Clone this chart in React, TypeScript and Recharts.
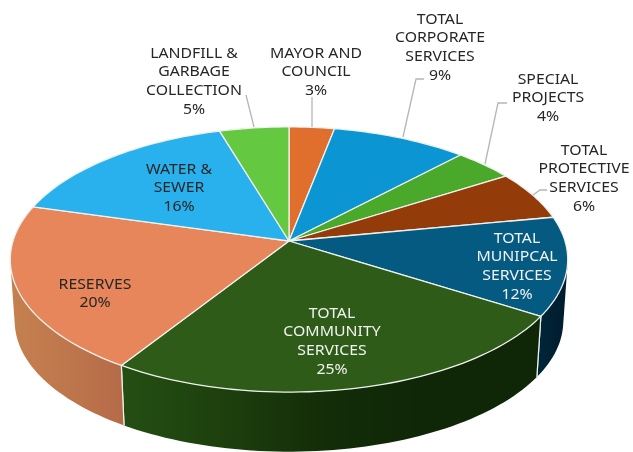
import React from 'react';
import { PieChart, Pie } from 'recharts';

// ---- data ----
const categories = [
  'MAYOR AND COUNCIL',
  'TOTAL CORPORATE SERVICES',
  'SPECIAL PROJECTS',
  'TOTAL PROTECTIVE SERVICES',
  'TOTAL MUNIPCAL SERVICES',
  'TOTAL COMMUNITY SERVICES',
  'RESERVES',
  'WATER & SEWER',
  'LANDFILL & GARBAGE COLLECTION',
];
const shares = [3, 9, 4, 6, 12, 25, 20.4, 16, 4.6];
const shownPercents = ['3%', '9%', '4%', '6%', '12%', '25%', '20%', '16%', '5%'];
const labelLines = [
  ['MAYOR AND', 'COUNCIL'],
  ['TOTAL', 'CORPORATE', 'SERVICES'],
  ['SPECIAL', 'PROJECTS'],
  ['TOTAL', 'PROTECTIVE', 'SERVICES'],
  ['TOTAL', 'MUNIPCAL', 'SERVICES'],
  ['TOTAL', 'COMMUNITY', 'SERVICES'],
  ['RESERVES'],
  ['WATER &', 'SEWER'],
  ['LANDFILL &', 'GARBAGE', 'COLLECTION'],
];

// ---- styles and layout ----
const topColors = ['#e06f2e', '#0b96d3', '#4aa92b', '#933b09', '#045a80', '#2e5c18', '#e6865a', '#29b1ee', '#64c940'];
const wallColors: string[][] = [
  ['#a8541f', '#a8541f'],
  ['#076d9a', '#076d9a'],
  ['#357b1e', '#357b1e'],
  ['#6b2b06', '#6b2b06'],
  ['#00263a', '#001c2b'],
  ['#244f14', '#1d3f0d', '#122c08', '#0f2607', '#0f2607'],
  ['#c5804f', '#be774c', '#b56a48'],
  ['#1d80ad', '#1d80ad'],
  ['#49922e', '#49922e'],
];
const labelTextColors = ['#262626', '#262626', '#262626', '#262626', '#f2f2f2', '#f2f2f2', '#262626', '#262626', '#262626'];
const labelCenters: [number, number][] = [
  [316, 52], [440, 18], [548, 78], [584, 149], [517, 237], [332, 312], [95, 283], [179, 168], [194, 52],
];
const leaders: ([number, number][] | null)[] = [
  [[312, 97], [312, 127]],
  [[424, 79], [416, 79], [403, 137]],
  [[507, 103], [498, 103], [485, 164]],
  [[547, 190], [540, 190], [533, 195]],
  null, null, null, null,
  [[246, 95], [254, 127]],
];
const LINE_H = 18.7;
const TILT = 130 / 276;
const PERSPECTIVE = 0.1396;
const DEPTH = 62;
const BASE_SCALE = 0.984;
const TEXT_STRETCH = 1.09;

const tableRows = categories.map((name, i) => ({ name, value: shares[i] }));

type Pt = [number, number];

function project(cx: number, cy: number, r: number, deg: number, scale = 1, drop = 0): Pt {
  const a = (deg * Math.PI) / 180;
  const X = Math.cos(a);
  const Y = Math.sin(a);
  const w = 1 + PERSPECTIVE * Y;
  return [cx + (scale * r * X) / w, cy + drop - (scale * r * TILT * Y) / w];
}

function arc(p: any, scale = 1, drop = 0): Pt[] {
  const steps = Math.max(4, Math.ceil(Math.abs(p.endAngle - p.startAngle) / 1.5));
  const pts: Pt[] = [];
  for (let s = 0; s <= steps; s++) {
    const deg = p.startAngle + ((p.endAngle - p.startAngle) * s) / steps;
    pts.push(project(p.cx, p.cy, p.outerRadius, deg, scale, drop));
  }
  return pts;
}

const toPath = (pts: Pt[]) =>
  'M' + pts.map((q) => `${q[0].toFixed(2)},${q[1].toFixed(2)}`).join('L') + 'Z';

function signedArea(pts: Pt[]) {
  let s = 0;
  pts.forEach((q, k) => {
    const n = pts[(k + 1) % pts.length];
    s += q[0] * n[1] - n[0] * q[1];
  });
  return s;
}

function TopFace(p: any) {
  const i = categories.indexOf(p.name);
  return (
    <path
      d={toPath([[p.cx, p.cy], ...arc(p)])}
      fill={topColors[i]}
      stroke="#eef2ee"
      strokeWidth={1.3}
      strokeLinejoin="round"
    />
  );
}

function Wall(p: any) {
  const i = categories.indexOf(p.name);
  const rim = arc(p);
  const base = arc(p, BASE_SCALE, DEPTH);
  const xs = [...rim, ...base].map((q) => q[0]);
  const x1 = Math.min(...xs);
  const x2 = Math.max(...xs);
  const stops = wallColors[i];
  const id = `wall-${i}`;
  // one quad per arc step, all wound alike, so the sweep reaches the silhouette
  const quads = rim.slice(0, -1).map((q, k) => {
    const quad: Pt[] = [q, rim[k + 1], base[k + 1], base[k]];
    return toPath(signedArea(quad) < 0 ? quad.reverse() : quad);
  });
  return (
    <g>
      <defs>
        <linearGradient id={id} gradientUnits="userSpaceOnUse" x1={x1} x2={x2} y1={0} y2={0}>
          {stops.map((c, k) => (
            <stop key={k} offset={k / (stops.length - 1)} stopColor={c} />
          ))}
        </linearGradient>
      </defs>
      <path d={quads.join('')} fill={`url(#${id})`} />
      <line x1={rim[0][0]} y1={rim[0][1]} x2={base[0][0]} y2={base[0][1]} stroke="#eef2ee" strokeWidth={1.2} />
      <line
        x1={rim[rim.length - 1][0]}
        y1={rim[rim.length - 1][1]}
        x2={base[base.length - 1][0]}
        y2={base[base.length - 1][1]}
        stroke="#eef2ee"
        strokeWidth={1.2}
      />
    </g>
  );
}

function SliceLabel(p: any) {
  const i = p.index;
  const [x, y0] = labelCenters[i];
  const lines = [...labelLines[i], shownPercents[i]];
  const lead = leaders[i];
  return (
    <g>
      {lead && (
        <polyline
          points={lead.map((q) => q.join(',')).join(' ')}
          fill="none"
          stroke="#b5b5b5"
          strokeWidth={1.3}
        />
      )}
      <g transform={`translate(${x},0) scale(${TEXT_STRETCH},1)`}>
        <text
          x={0}
          y={y0}
          textAnchor="middle"
          dominantBaseline="central"
          fontFamily="'Noto Sans', sans-serif"
          fontSize={14.5}
          fill={labelTextColors[i]}
        >
          {lines.map((t, k) => (
            <tspan key={k} x={0} y={y0 + k * LINE_H}>
              {t}
            </tspan>
          ))}
        </text>
      </g>
    </g>
  );
}

export default function App() {
  return (
    <div style={{ position: 'absolute', left: 0, top: 0, width: 633, height: 452, overflow: 'hidden', background: '#fff', filter: 'blur(0.4px)' }}>
      <PieChart width={633} height={452} margin={{ top: 0, right: 0, bottom: 0, left: 0 }}>
        <Pie
          data={tableRows}
          dataKey="value"
          nameKey="name"
          cx={289}
          cy={241}
          outerRadius={276}
          startAngle={90}
          endAngle={-270}
          isAnimationActive={false}
          shape={Wall}
          label={false}
          labelLine={false}
        />
        <Pie
          data={tableRows}
          dataKey="value"
          nameKey="name"
          cx={289}
          cy={241}
          outerRadius={276}
          startAngle={90}
          endAngle={-270}
          isAnimationActive={false}
          shape={TopFace}
          label={SliceLabel}
          labelLine={false}
        />
      </PieChart>
    </div>
  );
}
